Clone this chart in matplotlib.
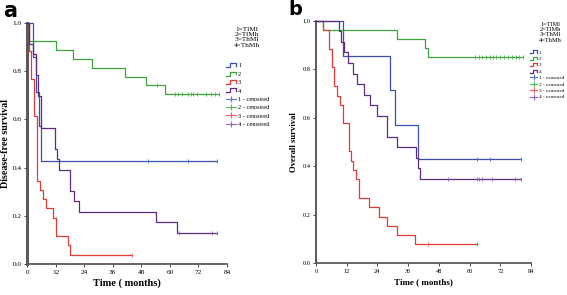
import matplotlib
matplotlib.use("Agg")
import matplotlib.pyplot as plt
import numpy as np
from matplotlib.legend_handler import HandlerBase
from matplotlib.lines import Line2D

# ---------------- data ----------------
group_labels = ["1", "2", "3", "4"]
group_title = "1=TlMl\n2=TlMh\n3=ThMl\n4=ThMh"
xticks = [0, 12, 24, 36, 48, 60, 72, 84]
yticks = [0.0, 0.2, 0.4, 0.6, 0.8, 1.0]

# panel a: disease-free survival (step times, survival after step)
a1_t = [0, 2.6, 3.7, 5.0, 5.8, 80]
a1_s = [1, 0.857, 0.714, 0.571, 0.429, 0.429]
a1_c = [51, 67.8, 80]

a2_t = [0, 1.0, 12, 19.2, 27.2, 41.2, 49.9, 58, 80.5]
a2_s = [1, 0.926, 0.889, 0.852, 0.815, 0.778, 0.741, 0.704, 0.704]
a2_c = [54.8, 62.2, 63.6, 65, 67.5, 68.8, 69.9, 71.3, 75.2, 77.2, 79, 80.5]

a3_t = [0, 1.0, 1.6, 3.1, 4.1, 4.4, 5.6, 6.8, 7.9, 11.0, 12.3, 17.1, 18.0, 44.2]
a3_s = [1, 0.885, 0.769, 0.615, 0.423, 0.346, 0.308, 0.269, 0.231, 0.192, 0.115, 0.077, 0.038, 0.038]
a3_c = [44.2]

a4_t = [0, 1.0, 2.6, 3.8, 4.8, 5.7, 11.8, 12.5, 13.6, 18.0, 19.7, 21.8, 54.2, 62.9, 80]
a4_s = [1, 0.913, 0.870, 0.783, 0.696, 0.565, 0.478, 0.435, 0.391, 0.304, 0.261, 0.217, 0.174, 0.130, 0.130]
a4_c = [63.9, 77.9, 80]

# panel b: overall survival
b1_t = [0, 10.5, 28.9, 30.8, 39.8, 80]
b1_s = [1, 0.857, 0.714, 0.571, 0.429, 0.429]
b1_c = [63, 68, 80]

b2_t = [0, 2.9, 31.8, 42.6, 43.9, 80.7]
b2_s = [1, 0.963, 0.926, 0.889, 0.852, 0.852]
b2_c = [62, 63.5, 65, 66.5, 68, 69.2, 70.5, 72, 73.5, 75, 76.5, 78, 79.5, 80.7]

b3_t = [0, 2.8, 5.2, 6.3, 7.2, 8.2, 9.2, 10.5, 12.7, 13.7, 14.6, 15.6, 16.8, 20.8, 24.7, 27.9, 31.8, 38.7, 63]
b3_s = [1, 0.962, 0.885, 0.808, 0.731, 0.692, 0.654, 0.577, 0.462, 0.423, 0.385, 0.346, 0.269,
        0.231, 0.192, 0.154, 0.115, 0.077, 0.077]
b3_c = [43.9, 63]

b4_t = [0, 8.9, 9.8, 11.1, 12.6, 14.6, 15.9, 18.75, 21.1, 23.7, 27.9, 31.8, 39.1, 40.0, 40.6, 80]
b4_s = [1, 0.957, 0.913, 0.870, 0.826, 0.783, 0.739, 0.696, 0.652, 0.609, 0.522, 0.478,
        0.435, 0.391, 0.348, 0.348]
b4_c = [51.7, 62.8, 63.7, 64.7, 68.9, 77.7, 80]

line_colors = ["#3b4fae", "#3aa63a", "#e23a34", "#5e2a86"]
cens_colors = ["#5a78d0", "#58bb58", "#ee5f5f", "#9568b8"]

# ---------------- figure ----------------
W, H = 567, 295
fig = plt.figure(figsize=(W / 100, H / 100), dpi=100)
serif = "Liberation Serif"


def px_axes(l, r, t, b):
    return fig.add_axes([l / W, 1 - b / H, (r - l) / W, (b - t) / H])


class StepHandler(HandlerBase):
    def __init__(self, color):
        super().__init__()
        self.color = color

    def create_artists(self, legend, orig_handle, xdescent, ydescent, width, height, fontsize, trans):
        x0, y0 = -xdescent, -ydescent
        xs = [x0, x0 + 0.35 * width, x0 + 0.35 * width, x0 + width, x0 + width]
        ys = [y0 + 0.05 * height, y0 + 0.05 * height, y0 + 0.9 * height, y0 + 0.9 * height, y0 + 0.3 * height]
        ln = Line2D(xs, ys, color=self.color, lw=0.9, transform=trans)
        return [ln]


def draw_panel(ax, series, lw_left, tick_fs, legend_fs, legend_anchor, title_xy, title_fs, spacing, hlen):
    for (t, s, c), lc, cc in zip(series, line_colors, cens_colors):
        ax.step(t, s, where="post", color=lc, lw=0.9, clip_on=False, zorder=3)
        cy = [s[np.searchsorted(t, ci, side="right") - 1] for ci in c]
        ax.plot(c, cy, ls="none", marker="|", markersize=3.2, mew=0.7, color=cc, clip_on=False, zorder=4)
    ax.set_xlim(0, 84)
    ax.set_ylim(0, 1.0)
    ax.set_xticks(xticks)
    ax.set_yticks(yticks)
    ax.set_yticklabels([f"{v:.1f}" for v in yticks])
    for sp in ["top", "right"]:
        ax.spines[sp].set_visible(False)
    ax.spines["left"].set_color("#5a5a5a")
    ax.spines["left"].set_linewidth(lw_left)
    ax.spines["bottom"].set_color("#5a5a5a")
    ax.spines["bottom"].set_linewidth(1.3)
    ax.tick_params(axis="both", direction="out", length=2.5, width=0.7, color="#444444",
                   labelsize=tick_fs, pad=1.5)
    for lab in ax.get_xticklabels() + ax.get_yticklabels():
        lab.set_fontfamily(serif)

    handles, labels, hmap = [], [], {}
    for i, g in enumerate(group_labels):
        h = Line2D([], [], color=line_colors[i])
        handles.append(h)
        labels.append(g)
        hmap[h] = StepHandler(line_colors[i])
    for i, g in enumerate(group_labels):
        h = Line2D([], [], color=cens_colors[i], marker="+", markersize=4, mew=0.8, lw=0.8)
        handles.append(h)
        labels.append(f"{g} - censored")
    leg = ax.legend(handles, labels, handler_map=hmap, loc="upper left",
                    bbox_to_anchor=(legend_anchor[0] / W, 1 - legend_anchor[1] / H),
                    bbox_transform=fig.transFigure, frameon=False,
                    prop={"family": serif, "size": legend_fs},
                    handlelength=hlen, handletextpad=0.3, labelspacing=spacing,
                    borderaxespad=0, borderpad=0)
    leg.set_clip_on(False)
    fig.text(title_xy[0] / W, 1 - title_xy[1] / H, group_title, ha="center", va="top",
             family=serif, fontsize=title_fs, linespacing=1.05)


# panel a
axa = px_axes(27, 227, 23, 264)
draw_panel(axa, [(a1_t, a1_s, a1_c), (a2_t, a2_s, a2_c), (a3_t, a3_s, a3_c), (a4_t, a4_s, a4_c)],
           lw_left=2.2, tick_fs=5.2, legend_fs=4.6, legend_anchor=(226, 63),
           title_xy=(247, 27), title_fs=5.2, spacing=0.45, hlen=1.6)
axa.set_ylabel("Disease-free survival", family=serif, fontweight="bold", fontsize=7.2, labelpad=2)
axa.set_xlabel("Time ( months)", family=serif, fontweight="bold", fontsize=7.5, labelpad=3)
fig.text(3 / W, 1 - 1 / H, "a", ha="left", va="top", fontsize=15, fontweight="bold", family="DejaVu Sans")

# panel b
axb = px_axes(316, 531, 21, 263)
draw_panel(axb, [(b1_t, b1_s, b1_c), (b2_t, b2_s, b2_c), (b3_t, b3_s, b3_c), (b4_t, b4_s, b4_c)],
           lw_left=1.4, tick_fs=4.6, legend_fs=3.7, legend_anchor=(530, 50),
           title_xy=(550, 22), title_fs=4.6, spacing=0.35, hlen=1.4)
axb.set_ylabel("Overall survival", family=serif, fontweight="bold", fontsize=6.2, labelpad=3)
axb.set_xlabel("Time ( months)", family=serif, fontweight="bold", fontsize=6.5, labelpad=3)
fig.text(288 / W, 1 - 0 / H, "b", ha="left", va="top", fontsize=14, fontweight="bold", family="DejaVu Sans")

fig.savefig("out.png", dpi=100)
